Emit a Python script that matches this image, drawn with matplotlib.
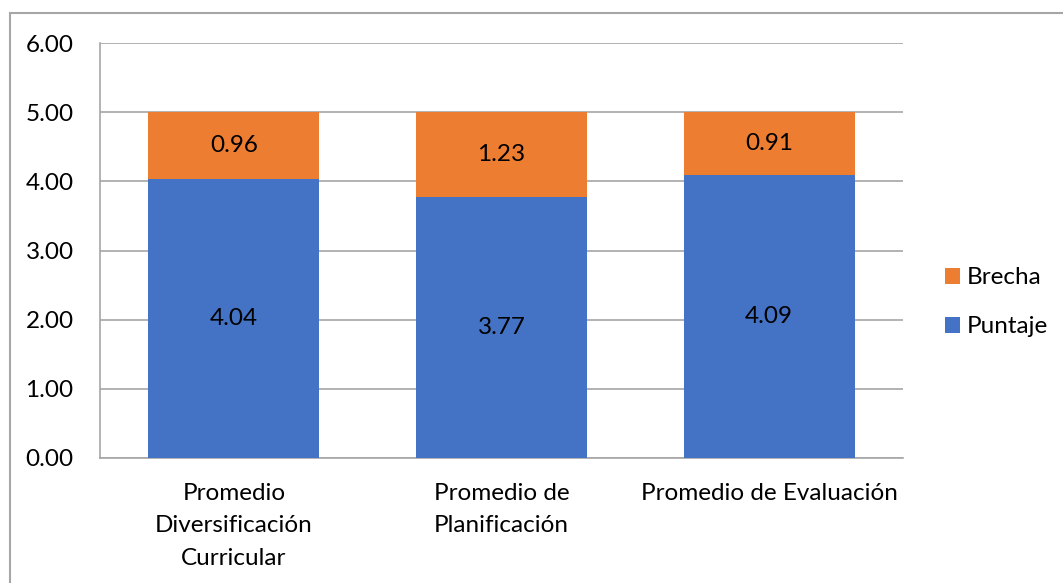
import matplotlib.pyplot as plt
from matplotlib.patches import Rectangle

# averages per dimension and gap to the max score of 5
categorias = ['Promedio\nDiversificación\nCurricular', 'Promedio de\nPlanificación', 'Promedio de Evaluación']
puntaje = [4.04, 3.77, 4.09]
brecha = [0.96, 1.23, 0.91]

azul = '#4472c4'
naranja = '#ed7d31'
gris = '#a6a6a6'
fs = 17.5

plt.rcParams['font.family'] = ['Lato', 'DejaVu Sans']

fig = plt.figure(figsize=(10.63, 5.83), dpi=100)
ax = fig.add_axes([100 / 1063, 1 - 458 / 583, 803 / 1063, 415 / 583])

x = range(len(categorias))
b1 = ax.bar(x, puntaje, width=0.64, color=azul, label='Puntaje', zorder=3)
b2 = ax.bar(x, brecha, width=0.64, bottom=puntaje, color=naranja, label='Brecha', zorder=3)

for i in x:
    ax.text(i, puntaje[i] / 2, f'{puntaje[i]:.2f}', ha='center', va='center', fontsize=fs, color='black', zorder=4)
    ax.text(i, puntaje[i] + brecha[i] / 2, f'{brecha[i]:.2f}', ha='center', va='center', fontsize=fs, color='black', zorder=4)

ax.set_xlim(-0.5, 2.5)
ax.set_ylim(0, 6)
ax.set_yticks([0, 1, 2, 3, 4, 5, 6])
ax.set_yticklabels([f'{v:.2f}' for v in range(7)])
ax.set_xticks(list(x))
ax.set_xticklabels(categorias, linespacing=1.67)
ax.tick_params(axis='both', length=0, labelsize=fs, colors='black')
ax.tick_params(axis='y', pad=19)
ax.tick_params(axis='x', pad=18)
ax.yaxis.grid(True, color=gris, linewidth=1.2, zorder=0)
for s in ['top', 'right']:
    ax.spines[s].set_visible(False)
ax.spines['left'].set_color(gris)
ax.spines['bottom'].set_color(gris)
ax.spines['left'].set_linewidth(1.2)
ax.spines['bottom'].set_linewidth(1.2)

ax.legend(handles=[b2, b1], loc='center left', bbox_to_anchor=(1.052, 0.375), frameon=False,
          fontsize=fs, handlelength=0.62, handleheight=0.62, labelspacing=1.16,
          handletextpad=0.3, borderpad=0, borderaxespad=0)

# chart border
fig.patches.append(Rectangle((10 / 1063, -0.1), 1.2, 1 - 13 / 583 + 0.1, transform=fig.transFigure,
                             fill=False, edgecolor=gris, linewidth=1.5))

fig.savefig('out.png', dpi=100)
